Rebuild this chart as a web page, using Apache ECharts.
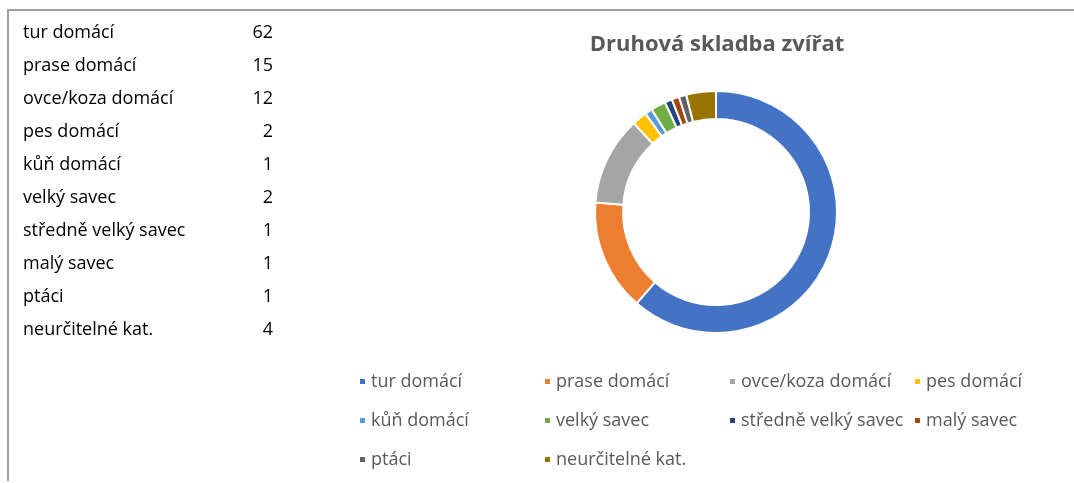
<!DOCTYPE html>
<html>
<head>
<meta charset="utf-8">
<script src="https://cdn.jsdelivr.net/npm/echarts@6/dist/echarts.min.js"></script>
<style>
  html, body { margin: 0; padding: 0; background: #fff; }
  #wrap { position: relative; width: 1074px; height: 483px; overflow: hidden; }
  #chart { position: absolute; left: 0; top: 0; width: 1074px; height: 483px; }
  #frame {
    position: absolute; left: 7px; top: 9px; right: -4px; bottom: 2px;
    border-top: 2px solid #a0a0a0; border-left: 2px solid #a0a0a0;
  }
  #table {
    position: absolute; left: 23px; top: 19px;
    font-family: "Open Sans", sans-serif; font-size: 18px; color: #000;
  }
  #table .row { position: relative; height: 33px; line-height: 25px; width: 250px; }
  #table .val { position: absolute; right: 0; top: 0; }
</style>
</head>
<body>
<div id="wrap">
  <div id="frame"></div>
  <div id="chart"></div>
  <div id="table"></div>
</div>
<script>
const categories = ['tur domácí', 'prase domácí', 'ovce/koza domácí', 'pes domácí', 'kůň domácí',
  'velký savec', 'středně velký savec', 'malý savec', 'ptáci', 'neurčitelné kat.']
const counts = [62, 15, 12, 2, 1, 2, 1, 1, 1, 4]
const colors = ['#4472C4', '#ED7D31', '#A5A5A5', '#FFC000', '#5B9BD5',
  '#70AD47', '#264478', '#9E480E', '#636363', '#997300']

// table on the left
const table = document.getElementById('table')
categories.forEach((name, i) => {
  const row = document.createElement('div')
  row.className = 'row'
  row.innerHTML = `<span>${name}</span><span class="val">${counts[i]}</span>`
  table.appendChild(row)
})

const chart = echarts.init(document.getElementById('chart'))
const font = '"Open Sans", sans-serif'

chart.setOption({
  color: colors,
  animation: false,
  title: {
    text: 'Druhová skladba zvířat',
    left: 712,
    top: 29,
    textAlign: 'center',
    textStyle: { fontFamily: font, fontSize: 22, fontWeight: 'bold', color: '#595959' },
  },
  legend: {
    left: 353,
    top: 360,
    width: 740,
    itemWidth: 7,
    itemHeight: 7,
    itemGap: 6,
    icon: 'rect',
    textStyle: {
      fontFamily: font,
      fontSize: 18,
      color: '#595959',
      width: 166,
      lineHeight: 33,
    },
    data: categories,
  },
  series: [
    {
      type: 'pie',
      center: [716, 212],
      radius: [93, 121],
      startAngle: 90,
      clockwise: true,
      label: { show: false },
      labelLine: { show: false },
      itemStyle: { borderColor: '#fff', borderWidth: 2 },
      data: categories.map((name, i) => ({ name, value: counts[i] })),
    },
  ],
})
</script>
</body>
</html>
